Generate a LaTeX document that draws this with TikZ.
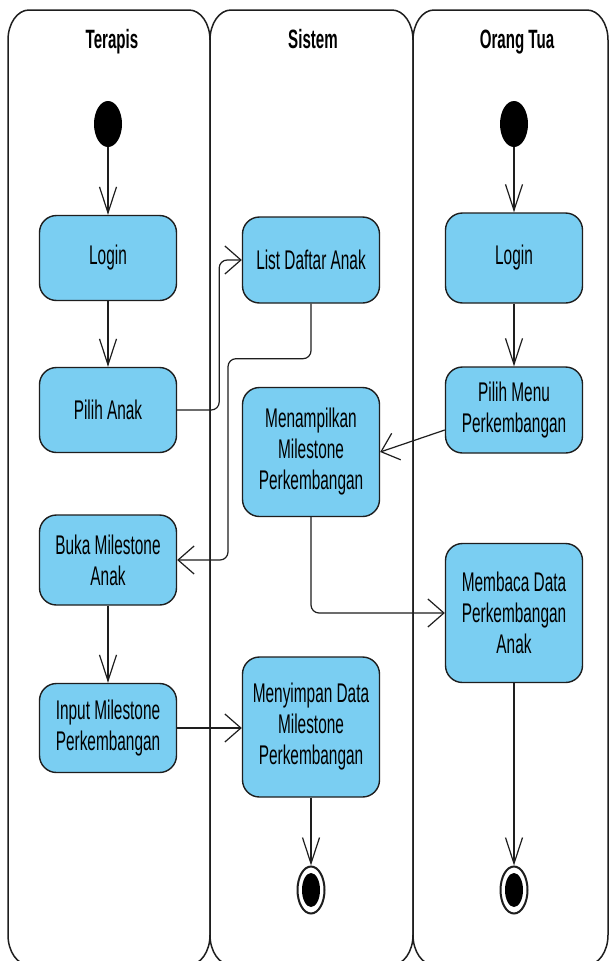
\documentclass[tikz,border=0pt]{standalone}
\usepackage{fontspec}
\setmainfont{Liberation Sans}
\newfontfamily\bodyfont[FakeStretch=0.57]{Liberation Sans}
\newfontfamily\headfont[FakeStretch=0.57]{Liberation Sans}
\usetikzlibrary{arrows.meta,shapes.geometric}
\definecolor{actfill}{HTML}{7ACEF2}
\definecolor{lineclr}{HTML}{1E1E1E}
\newcommand\swimlane[2]{%
  \draw[lanestyle] (#1,935) -- (#1,40)
    arc[start angle=180,end angle=270,x radius=21,y radius=30]
    -- ({#2-21},10)
    arc[start angle=270,end angle=360,x radius=21,y radius=30]
    -- (#2,935)
    arc[start angle=0,end angle=90,x radius=21,y radius=30]
    -- ({#1+21},965)
    arc[start angle=90,end angle=180,x radius=21,y radius=30] -- cycle;}
\tikzset{
  lanestyle/.style={draw=lineclr, line width=1.5pt, fill=white},
  act/.style={draw=lineclr, line width=1.4pt, fill=actfill, rounded corners=17pt,
    minimum width=137pt, align=center, inner sep=0pt, text=black,
    font=\bodyfont\fontsize{27}{31}\selectfont},
  head/.style={font=\headfont\bfseries\fontsize{26.5}{30}\selectfont, anchor=base, inner sep=0pt},
  startnode/.style={ellipse, fill=black, minimum width=28pt, minimum height=46pt, inner sep=0pt},
  endnode/.style={ellipse, draw=lineclr, line width=2pt, fill=white, minimum width=27pt,
    minimum height=47pt, inner sep=0pt,
    path picture={\fill[black] (path picture bounding box.center) ellipse[x radius=9pt,y radius=17pt];}},
  flow/.style={draw=lineclr, line width=1.2pt, rounded corners=8pt},
  vflow/.style={flow, -{Straight Barb[length=26pt,width=17pt]}},
  hflow/.style={flow, -{Straight Barb[length=16pt,width=28pt]}}
}
\begin{document}
\begin{tikzpicture}[x=1pt,y=-1pt]
\useasboundingbox (0,0) rectangle (611,961);
\clip (0,0) rectangle (611,961);
% lanes
\swimlane{8}{210}
\swimlane{210}{413}
\swimlane{413}{608}
% headers
\node[head] (h1) at (112,48) {Terapis};
\node[head] (h2) at (313,48) {Sistem};
\node[head] (h3) at (517,48) {Orang Tua};
% Terapis lane
\node[startnode] (s1) at (108,124) {};
\node[act, minimum height=85pt] (login1) at (108,258) {Login};
\node[act, minimum height=85pt] (pilihanak) at (108,410) {Pilih Anak};
\node[act, minimum height=90pt] (buka) at (108,560) {Buka Milestone\\Anak};
\node[act, minimum height=89pt] (input) at (108,728) {Input Milestone\\Perkembangan};
% Sistem lane
\node[act, minimum height=86pt] (list) at (311,260) {List Daftar Anak};
\node[act, minimum height=129pt] (tampil) at (311,452) {Menampilkan\\Milestone\\Perkembangan};
\node[act, minimum height=140pt] (simpan) at (311,727) {Menyimpan Data\\Milestone\\Perkembangan};
\node[endnode] (e1) at (311,890) {};
% Orang Tua lane
\node[startnode] (s2) at (514,124) {};
\node[act, minimum height=90pt] (login2) at (514,258) {Login};
\node[act, minimum height=86pt] (menu) at (514,410) {Pilih Menu\\Perkembangan};
\node[act, minimum height=139pt] (baca) at (514,613) {Membaca Data\\Perkembangan\\Anak};
\node[endnode] (e2) at (514,890) {};
% connectors
\draw[vflow] (s1) -- (login1);
\draw[vflow] (login1) -- (pilihanak);
\draw[hflow] (pilihanak.east) -- ++(42,0) |- (list.west);
\draw[hflow] (list.south) -- ++(0,55) -- ++(-83,0) |- (buka.east);
\draw[vflow] (buka) -- (input);
\draw[hflow] (input.east) -- (simpan.west |- input.east);
\draw[vflow] (simpan) -- (e1);
\draw[vflow] (s2) -- (login2);
\draw[vflow] (login2) -- (menu);
\draw[hflow] ([yshift=-20pt]menu.west) -- (tampil.east);
\draw[hflow] (tampil.south) |- (baca.west);
\draw[vflow] (baca) -- (e2);
\end{tikzpicture}
\end{document}
